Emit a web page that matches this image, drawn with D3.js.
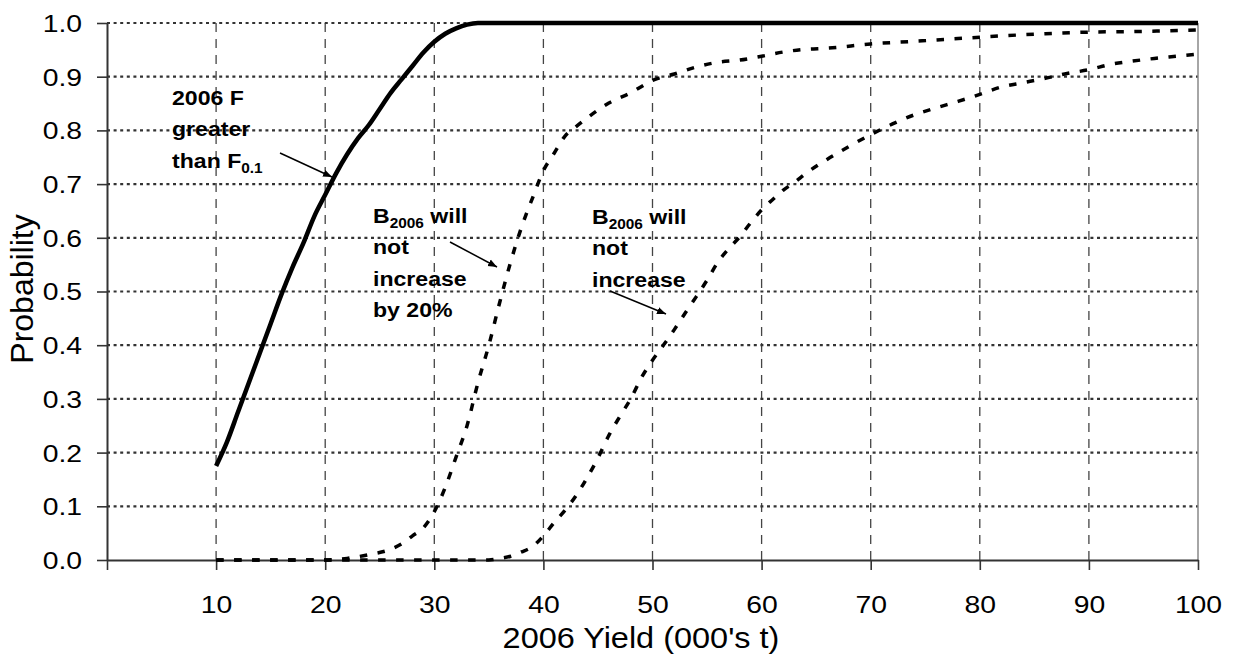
<!DOCTYPE html>
<html>
<head>
<meta charset="utf-8">
<script src="https://cdn.jsdelivr.net/npm/d3@7"></script>
<style>
  body { margin: 0; background: #fff; }
  text { font-family: "Liberation Sans", Arial, sans-serif; fill: #000; }
</style>
</head>
<body>
<script>
// values
var xTicks = [0, 10, 20, 30, 40, 50, 60, 70, 80, 90, 100];
var yTicks = [0, 0.1, 0.2, 0.3, 0.4, 0.5, 0.6, 0.7, 0.8, 0.9, 1.0];

// 2006 F greater than F0.1 (solid)
var xF = [10, 11, 12, 13, 14, 15, 16, 17, 18, 19, 20, 21, 22, 23, 24, 25, 26, 27, 28, 29, 30, 31, 32, 33, 34, 36, 40, 50, 60, 70, 80, 90, 100];
var pF = [0.175, 0.22, 0.275, 0.33, 0.385, 0.44, 0.495, 0.545, 0.59, 0.64, 0.68, 0.72, 0.755, 0.785, 0.81, 0.84, 0.87, 0.895, 0.92, 0.945, 0.965, 0.98, 0.99, 0.997, 1.0, 1.0, 1.0, 1.0, 1.0, 1.0, 1.0, 1.0, 1.0];

// B2006 will not increase by 20% (dashed, middle)
var xB20 = [10, 15, 20, 22, 24, 26, 27, 28, 29, 30, 31, 32, 33, 34, 35, 36, 37, 38, 39, 40, 41, 42, 43, 44, 46, 48, 50, 52, 54, 56, 58, 60, 62, 64, 66, 70, 74, 78, 82, 86, 90, 94, 100];
var pB20 = [0, 0, 0, 0.003, 0.01, 0.02, 0.03, 0.045, 0.06, 0.09, 0.135, 0.192, 0.25, 0.33, 0.4, 0.48, 0.555, 0.62, 0.674, 0.725, 0.758, 0.79, 0.807, 0.823, 0.851, 0.87, 0.893, 0.905, 0.918, 0.927, 0.931, 0.938, 0.946, 0.951, 0.953, 0.961, 0.966, 0.971, 0.976, 0.98, 0.983, 0.984, 0.987];

// B2006 will not increase (dashed, right)
var xB = [10, 20, 30, 35, 36, 37, 38, 39, 40, 41, 42, 43, 44, 45, 46, 47, 48, 49, 50, 51, 52, 53, 54, 55, 56, 57, 58, 59, 60, 61, 62, 63, 64, 66, 68, 70, 72, 74, 76, 78, 80, 82, 84, 86, 88, 90, 92, 94, 96, 98, 100];
var pB = [0, 0, 0, 0, 0.003, 0.007, 0.015, 0.025, 0.045, 0.07, 0.093, 0.12, 0.153, 0.19, 0.232, 0.267, 0.3, 0.34, 0.372, 0.4, 0.429, 0.46, 0.49, 0.521, 0.555, 0.58, 0.602, 0.628, 0.652, 0.671, 0.689, 0.703, 0.719, 0.746, 0.77, 0.792, 0.812, 0.829, 0.842, 0.854, 0.867, 0.881, 0.889, 0.897, 0.906, 0.913, 0.923, 0.929, 0.934, 0.938, 0.942];

var w = 1234, h = 654;
var plotL = 107, plotR = 1198, plotT = 23, plotB = 560;

var svg = d3.select("body").append("svg")
    .attr("width", w)
    .attr("height", h);

var x = d3.scaleLinear().domain([0, 100]).range([plotL, plotR]);
var y = d3.scaleLinear().domain([0, 1]).range([plotB, plotT]);

// grid
svg.append("g").selectAll("line")
    .data(xTicks.filter(function (d) { return d > 0 && d < 100; }))
    .enter().append("line")
    .attr("x1", function (d) { return x(d); })
    .attr("x2", function (d) { return x(d); })
    .attr("y1", plotT)
    .attr("y2", plotB)
    .attr("stroke", "#444")
    .attr("stroke-width", 1.3)
    .attr("stroke-dasharray", "9,7");

svg.append("g").selectAll("line")
    .data(yTicks.filter(function (d) { return d > 0; }))
    .enter().append("line")
    .attr("x1", plotL)
    .attr("x2", plotR)
    .attr("y1", function (d) { return y(d); })
    .attr("y2", function (d) { return y(d); })
    .attr("stroke", "#333")
    .attr("stroke-width", 2.2)
    .attr("stroke-dasharray", "3,3.6");

// right border of plot area
svg.append("line")
    .attr("x1", plotR).attr("x2", plotR)
    .attr("y1", plotT).attr("y2", plotB)
    .attr("stroke", "#888")
    .attr("stroke-width", 1.5);

// axes
var yAxis = d3.axisLeft(y)
    .tickValues(yTicks)
    .tickFormat(d3.format(".1f"))
    .tickSize(10)
    .tickSizeOuter(0);

var gy = svg.append("g")
    .attr("transform", "translate(" + plotL + ",0)")
    .call(yAxis);
gy.selectAll("text")
    .style("font-size", "24px")
    .attr("x", -25 / 1.18)
    .attr("dy", "0.35em")
    .attr("transform", "scale(1.18,1)");

var xAxis = d3.axisBottom(x)
    .tickValues(xTicks)
    .tickFormat(function (d) { return d === 0 ? "" : d; })
    .tickSize(10)
    .tickSizeOuter(0)
    .tickPadding(26);

var gx = svg.append("g")
    .attr("transform", "translate(0," + plotB + ")")
    .call(xAxis);
gx.selectAll("text")
    .style("font-size", "24px")
    .attr("transform", "scale(1.18,1)");

[gx, gy].forEach(function (g) {
    g.selectAll("path, line").attr("stroke", "#333").attr("stroke-width", 1.6);
    g.select(".domain").attr("stroke-width", 2);
});

// titles
svg.append("text")
    .attr("transform", "translate(641," + 648 + ") scale(1.12,1)")
    .attr("text-anchor", "middle")
    .style("font-size", "29px")
    .text("2006 Yield (000's t)");

svg.append("text")
    .attr("transform", "translate(33," + 289 + ") rotate(-90)")
    .attr("text-anchor", "middle")
    .style("font-size", "32px")
    .text("Probability");

// curves
var line = d3.line()
    .x(function (d) { return x(d[0]); })
    .y(function (d) { return y(d[1]); })
    .curve(d3.curveMonotoneX);

function pairs(xs, ys) { return xs.map(function (v, i) { return [v, ys[i]]; }); }

svg.append("path")
    .datum(pairs(xB, pB))
    .attr("d", line)
    .attr("fill", "none")
    .attr("stroke", "#000")
    .attr("stroke-width", 3.5)
    .attr("stroke-dasharray", "7.5,10.5");

svg.append("path")
    .datum(pairs(xB20, pB20))
    .attr("d", line)
    .attr("fill", "none")
    .attr("stroke", "#000")
    .attr("stroke-width", 3.5)
    .attr("stroke-dasharray", "7.5,10.5");

svg.append("path")
    .datum(pairs(xF, pF))
    .attr("d", line)
    .attr("fill", "none")
    .attr("stroke", "#000")
    .attr("stroke-width", 4.5);

// annotations
svg.append("defs").append("marker")
    .attr("id", "arrow")
    .attr("viewBox", "0 0 10 10")
    .attr("refX", 10).attr("refY", 5)
    .attr("markerWidth", 6).attr("markerHeight", 6)
    .attr("orient", "auto")
    .append("path")
    .attr("d", "M0,1 L10,5 L0,9 Z")
    .attr("fill", "#000");

// [text, subscript, rest] per line
var notes = [
    { x: 172, y: 105, lines: [["2006 F", ""], ["greater", ""], ["than F", "0.1"]], arrow: [280, 153, 332, 177] },
    { x: 373, y: 223, lines: [["B", "2006", " will"], ["not", ""], ["increase", ""], ["by 20%", ""]], arrow: [450, 242, 497, 267] },
    { x: 592, y: 224, lines: [["B", "2006", " will"], ["not", ""], ["increase", ""]], arrow: [610, 291, 666, 314] }
];

notes.forEach(function (n) {
    var g = svg.append("g")
        .attr("transform", "translate(" + n.x + "," + n.y + ") scale(1.1,1)");
    n.lines.forEach(function (l, i) {
        var t = g.append("text")
            .attr("y", i * 31.5)
            .style("font-size", "21px")
            .style("font-weight", "bold");
        t.append("tspan").text(l[0]);
        if (l[1]) {
            t.append("tspan").attr("dy", 5).style("font-size", "14px").text(l[1]);
            if (l[2]) t.append("tspan").attr("dy", -5).text(l[2]);
        }
    });
    svg.append("line")
        .attr("x1", n.arrow[0]).attr("y1", n.arrow[1])
        .attr("x2", n.arrow[2]).attr("y2", n.arrow[3])
        .attr("stroke", "#000")
        .attr("stroke-width", 1.5)
        .attr("marker-end", "url(#arrow)");
});
</script>
</body>
</html>
